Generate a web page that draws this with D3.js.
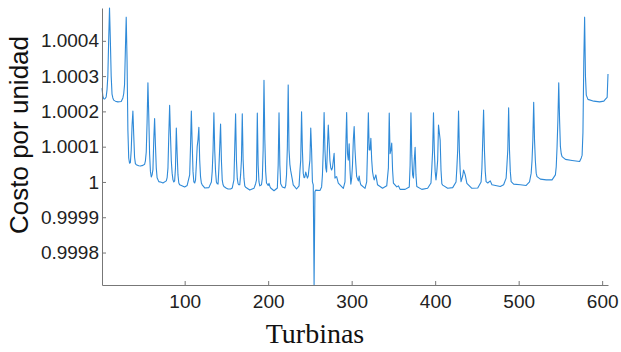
<!DOCTYPE html>
<html>
<head>
<meta charset="utf-8">
<script src="https://cdn.jsdelivr.net/npm/d3@7"></script>
<style>
  body { margin: 0; background: #fff; }
  svg { display: block; }
</style>
</head>
<body>
<div id="chart"></div>
<script>
// turbine index and unit cost
const turbinas = [1,2,3,4,5,6,7,8,9,10,11,12,13,14,15,17,20,24,26,27,28,29,30,31,32,33,34,35,36,37,38,39,40,41,42,45,47,50,52,53,54,55,56,57,58,59,60,61,62,63,64,65,66,67,69,72,74,78,79,80,81,82,83,84,85,86,87,88,89,90,91,92,93,94,100,103,106,107,108,109,110,111,112,113,114,115,116,117,118,119,120,121,124,129,132,133,134,135,136,137,138,139,140,141,142,143,144,145,146,147,150,152,155,157,159,160,161,162,163,164,165,166,167,168,169,170,171,172,173,178,183,185,186,187,188,189,190,192,193,194,195,196,197,198,200,201,202,203,207,211,212,213,214,215,217,220,221,222,223,224,225,226,227,229,230,231,234,237,238,239,240,241,242,243,244,245,247,248,249,250,251,252,253,254,255,256,257,262,264,265,266,267,268,269,270,271,272,273,274,275,276,277,279,280,281,282,284,290,292,293,294,295,296,297,298,299,300,301,302,303,304,305,306,308,309,310,311,316,318,319,320,321,322,323,324,325,326,327,329,331,337,342,344,345,346,347,348,349,350,354,356,358,364,369,370,371,372,373,374,375,376,377,378,384,391,395,396,397,398,399,400,401,402,403,404,405,406,407,408,409,415,421,425,426,427,428,429,430,431,433,434,436,438,444,451,455,456,457,458,459,460,461,463,466,468,478,482,485,486,487,488,489,490,491,494,502,509,513,515,516,517,518,519,520,521,522,526,533,540,544,545,546,547,548,549,550,551,552,556,564,573,575,576,577,578,579,580,581,583,590,597,602,604,606,607];
const costo = [1.000266,1.000244,1.000236,1.000235,1.000237,1.000241,1.000261,1.0003,1.000402,1.000493,1.000402,1.0003,1.000249,1.000238,1.000232,1.000229,1.000227,1.000228,1.000238,1.00025,1.000275,1.000374,1.000467,1.000346,1.000147,1.000068,1.000053,1.000055,1.00009,1.00016,1.000201,1.000133,1.00007,1.000052,1.000049,1.000046,1.000045,1.000047,1.00005,1.00006,1.000085,1.00017,1.000281,1.00019,1.00008,1.00003,1.000014,1.00002,1.000035,1.000119,1.00018,1.000105,1.00004,1.000012,1.000001,0.999999,0.999997,1.000003,1.000012,1.00004,1.000133,1.000217,1.000133,1.00006,1.000025,1.000006,1,1.000003,1.00004,1.000153,1.00008,1.00002,0.999997,0.999992,0.999986,0.99999,1.00002,1.0001,1.000201,1.00011,1.00003,1,0.999997,1.000005,1.00005,1.0001,1.00012,1.000155,1.000062,1.000015,0.999997,0.999992,0.999983,0.999984,1,1.00003,1.00009,1.000196,1.00009,1.00003,1,0.999995,0.999994,1.00004,1.0001,1.000164,1.000062,1.000005,0.999992,0.999987,0.999982,0.99998,0.99998,0.999983,1.000006,1.0001,1.000193,1.000062,1.00001,0.999995,0.999992,0.999992,1.00002,1.000062,1.000193,1.000062,1.00001,0.999989,0.999985,0.999977,0.999982,0.999995,1.000006,1.000195,1.000048,1,0.999989,0.999992,1.00001,1.000091,1.000288,1.00012,1.00003,0.999997,0.99999,0.999996,0.999988,0.999983,0.999975,0.999983,1.000048,1.000196,1.000048,0.999995,0.999986,0.999983,0.99999,1.00002,1.0001,1.000275,1.000091,1.00005,1.000032,1.000006,0.999992,0.999989,0.99998,0.999989,1.00003,1.000062,1.000199,1.000091,1.000025,1.000012,1.000014,1.000028,1.000011,1.000017,1.00004,1.000062,1.000153,1.000091,1,0.999992,0.999708,0.999972,0.999977,0.999976,0.999986,1.00002,1.00009,1.000197,1.000091,1.00004,1.000028,1.0001,1.000161,1.00011,1.00006,1.00004,1.000034,1.00004,1.000081,1.000011,1.000014,1.000015,0.999997,0.999982,1,1.0001,1.000197,1.00008,1.000062,1.000108,1.000034,0.999994,1.00001,1.000048,1.000119,1.000157,1.000091,1.00005,1.000015,1.000003,1.000017,1,0.999992,0.999982,1,1.000091,1.000196,1.000091,1.000091,1.000124,1.000062,1.000029,1.000015,1.000006,1.00002,0.999992,0.999982,0.999989,1.00004,1.000195,1.00008,1.00009,1.00011,1.000034,0.999997,0.999986,0.999989,0.999979,0.999979,0.999986,1.000048,1.000196,1.000076,1.00002,1.000011,1.000062,1.000098,1.00002,0.999987,0.999979,0.999982,0.999997,1.00004,1.00009,1.000196,1.00009,1.00003,1.000006,1.00003,1.000062,1.000161,1.00014,1.000119,1.000034,0.999995,0.999991,0.999982,0.999984,1,1.00004,1.000091,1.000201,1.000091,1.00003,1.000001,1.000017,1.000034,1.00002,0.999996,0.999982,0.999983,1,1.00004,1.00012,1.000204,1.000091,1.00003,1.000001,0.999997,1.000003,0.999992,0.999987,0.999992,1.000011,1.00005,1.000091,1.00021,1.000091,1.00003,1.000001,0.999994,0.999992,0.99999,1,1.000025,1.00006,1.000119,1.000226,1.000119,1.00006,1.000025,1.000015,1.000008,1.000006,1.000006,1.00002,1.000043,1.0001,1.000176,1.000281,1.000176,1.0001,1.00008,1.000072,1.000064,1.000061,1.000058,1.000068,1.000076,1.00014,1.00034,1.000467,1.0003,1.000246,1.000234,1.000229,1.000227,1.000229,1.000235,1.00024,1.000306];

const xTicks = [100, 200, 300, 400, 500, 600];
const yTicks = [0.9998, 0.9999, 1, 1.0001, 1.0002, 1.0003, 1.0004];
const yTickLabels = ["0.9998", "0.9999", "1", "1.0001", "1.0002", "1.0003", "1.0004"];

const width = 621, height = 352;
const margin = { top: 8, right: 13, bottom: 67, left: 102 };

const svg = d3.select("#chart").append("svg")
    .attr("width", width)
    .attr("height", height);

const data = turbinas.map((t, i) => ({ x: t, y: costo[i] }));

const x = d3.scaleLinear()
    .domain([turbinas[0], turbinas[turbinas.length - 1]])
    .range([margin.left, width - margin.right]);
const y = d3.scaleLinear()
    .domain(d3.extent(costo))
    .range([height - margin.bottom, margin.top]);

// line first, axes on top like matlab
svg.append("path")
    .datum(data)
    .attr("fill", "none")
    .attr("stroke", "#2f8ad8")
    .attr("stroke-width", 1.1)
    .attr("stroke-linejoin", "round")
    .attr("d", d3.line().x(d => x(d.x)).y(d => y(d.y)));

const axisColor = "#777";

const gx = svg.append("g")
    .attr("transform", `translate(0,${height - margin.bottom})`)
    .call(d3.axisBottom(x).tickValues(xTicks).tickSizeInner(-4).tickSizeOuter(0).tickPadding(10));
const gy = svg.append("g")
    .attr("transform", `translate(${margin.left},0)`)
    .call(d3.axisLeft(y).tickValues(yTicks).tickFormat((d, i) => yTickLabels[i]).tickSizeInner(-4).tickSizeOuter(0).tickPadding(3));

[gx, gy].forEach(g => {
    g.select(".domain").attr("stroke", axisColor).attr("stroke-width", 1);
    g.selectAll(".tick line").attr("stroke", axisColor);
    g.selectAll(".tick text")
        .attr("fill", "#222")
        .style("font-family", "Arial, 'Liberation Sans', sans-serif")
        .style("font-size", "19px");
});
gy.selectAll(".tick text").attr("x", -3);

svg.append("text")
    .attr("x", (margin.left + width - margin.right) / 2 - 40)
    .attr("y", 343)
    .attr("text-anchor", "middle")
    .style("font-family", "'Times New Roman', 'Liberation Serif', serif")
    .style("font-size", "28px")
    .attr("fill", "#111")
    .text("Turbinas");

svg.append("text")
    .attr("transform", "translate(28,135) rotate(-90)")
    .attr("text-anchor", "middle")
    .style("font-family", "Arial, 'Liberation Sans', sans-serif")
    .style("font-size", "26px")
    .attr("fill", "#111")
    .text("Costo por unidad");
</script>
</body>
</html>
